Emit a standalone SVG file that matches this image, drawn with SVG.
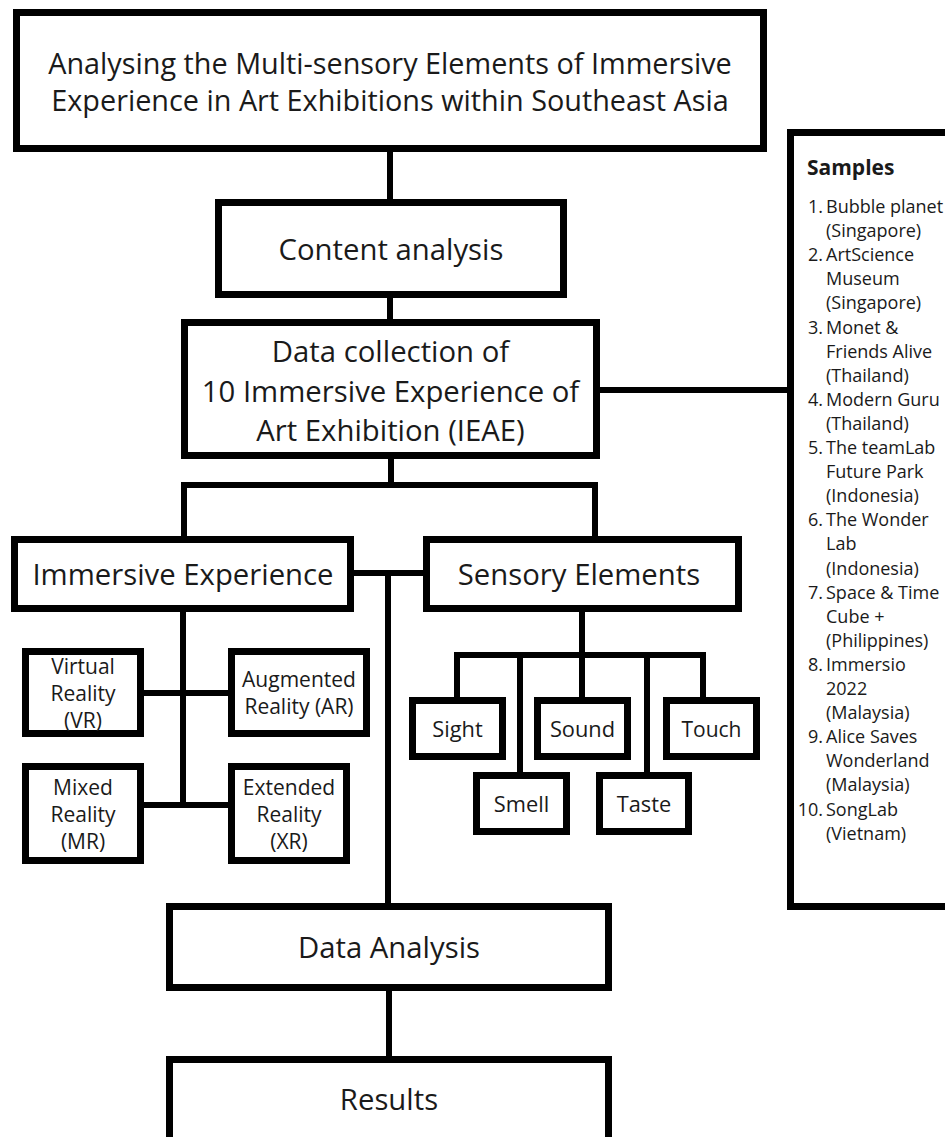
<svg xmlns="http://www.w3.org/2000/svg" width="945" height="1137" viewBox="0 0 945 1137">
<style>
.box{fill:#fff;stroke:#000;stroke-width:7}
.ln{fill:none;stroke:#000;stroke-width:6;stroke-linejoin:miter;stroke-linecap:butt}
text{font-family:"Open Sans","Noto Sans","Liberation Sans",sans-serif;fill:#1a1a1a}
.t29{font-size:28.8px;text-anchor:middle}
.t27{font-size:29.3px;text-anchor:middle}
.t28{font-size:29.3px;text-anchor:middle}
.t21{font-size:21px;text-anchor:middle}
.t22{font-size:21.8px;text-anchor:middle}
.s18{font-size:18px}
.num{font-size:18px;text-anchor:end}
.hd{font-size:21px;font-weight:bold}
</style>
<rect width="945" height="1137" fill="#fff"/>
<g id="connectors">
<path class="ln" d="M390,152 V199"/>
<path class="ln" d="M390,298 V319"/>
<path class="ln" d="M600,390 H787"/>
<path class="ln" d="M391,459 V485"/>
<path class="ln" d="M184,537 V485 H595 V537"/>
<path class="ln" d="M354,573 H423"/>
<path class="ln" d="M388,573 V903"/>
<path class="ln" d="M183,612 V807"/>
<path class="ln" d="M144,693 H228"/>
<path class="ln" d="M144,805 H228"/>
<path class="ln" d="M582,612 V697"/>
<path class="ln" d="M457,697 V655 H703 V697"/>
<path class="ln" d="M520,655 V772"/>
<path class="ln" d="M647,655 V772"/>
<path class="ln" d="M389,991 V1056"/>
</g>
<g id="title">
<rect class="box" x="16.5" y="12.5" width="747" height="136"/>
<text class="t29" x="390" y="74">Analysing the Multi-sensory Elements of Immersive</text>
<text class="t29" x="390" y="111">Experience in Art Exhibitions within Southeast Asia</text>
</g>
<g id="content-analysis">
<rect class="box" x="218.5" y="202.5" width="345" height="92"/>
<text class="t27" x="391" y="260">Content analysis</text>
</g>
<g id="data-collection">
<rect class="box" x="184.5" y="322.5" width="412" height="133"/>
<text class="t27" x="390.5" y="362">Data collection of</text>
<text class="t27" x="390.5" y="402">10 Immersive Experience of</text>
<text class="t27" x="390.5" y="441">Art Exhibition (IEAE)</text>
</g>
<g id="samples">
<rect class="box" x="790.5" y="132.5" width="200" height="774"/>
<text class="hd" x="807" y="175">Samples</text>
<g class="s18">
<text class="num" x="823" y="213">1.</text><text x="826" y="213">Bubble planet</text>
<text x="826" y="237.1">(Singapore)</text>
<text class="num" x="823" y="261.2">2.</text><text x="826" y="261.2">ArtScience</text>
<text x="826" y="285.3">Museum</text>
<text x="826" y="309.4">(Singapore)</text>
<text class="num" x="823" y="333.5">3.</text><text x="826" y="333.5">Monet &amp;</text>
<text x="826" y="357.6">Friends Alive</text>
<text x="826" y="381.7">(Thailand)</text>
<text class="num" x="823" y="405.8">4.</text><text x="826" y="405.8">Modern Guru</text>
<text x="826" y="429.9">(Thailand)</text>
<text class="num" x="823" y="454">5.</text><text x="826" y="454">The teamLab</text>
<text x="826" y="478.1">Future Park</text>
<text x="826" y="502.2">(Indonesia)</text>
<text class="num" x="823" y="526.3">6.</text><text x="826" y="526.3">The Wonder</text>
<text x="826" y="550.4">Lab</text>
<text x="826" y="574.5">(Indonesia)</text>
<text class="num" x="823" y="598.6">7.</text><text x="826" y="598.6">Space &amp; Time</text>
<text x="826" y="622.7">Cube +</text>
<text x="826" y="646.8">(Philippines)</text>
<text class="num" x="823" y="670.9">8.</text><text x="826" y="670.9">Immersio</text>
<text x="826" y="695">2022</text>
<text x="826" y="719.1">(Malaysia)</text>
<text class="num" x="823" y="743.2">9.</text><text x="826" y="743.2">Alice Saves</text>
<text x="826" y="767.3">Wonderland</text>
<text x="826" y="791.4">(Malaysia)</text>
<text class="num" x="823" y="815.5">10.</text><text x="826" y="815.5">SongLab</text>
<text x="826" y="839.6">(Vietnam)</text>
</g>
</g>
<g id="immersive-experience">
<rect class="box" x="14.5" y="539.5" width="336" height="69"/>
<text class="t28" x="183" y="585">Immersive Experience</text>
</g>
<g id="sensory-elements">
<rect class="box" x="426.5" y="539.5" width="312" height="69"/>
<text class="t28" x="579" y="585">Sensory Elements</text>
</g>
<g id="vr">
<rect class="box" x="25.5" y="651.5" width="115" height="82"/>
<text class="t21" x="83" y="674">Virtual</text>
<text class="t21" x="83" y="701">Reality</text>
<text class="t21" x="83" y="728">(VR)</text>
</g>
<g id="ar">
<rect class="box" x="231.5" y="651.5" width="135" height="82"/>
<text class="t21" x="299" y="687">Augmented</text>
<text class="t21" x="299" y="714">Reality (AR)</text>
</g>
<g id="mr">
<rect class="box" x="25.5" y="766.5" width="115" height="94"/>
<text class="t21" x="83" y="795">Mixed</text>
<text class="t21" x="83" y="822">Reality</text>
<text class="t21" x="83" y="849">(MR)</text>
</g>
<g id="xr">
<rect class="box" x="231.5" y="766.5" width="115" height="94"/>
<text class="t21" x="289" y="795">Extended</text>
<text class="t21" x="289" y="822">Reality</text>
<text class="t21" x="289" y="849">(XR)</text>
</g>
<g id="sight">
<rect class="box" x="412.5" y="700.5" width="90" height="56"/>
<text class="t22" x="457.5" y="737">Sight</text>
</g>
<g id="sound">
<rect class="box" x="537.5" y="700.5" width="90" height="56"/>
<text class="t22" x="582.5" y="737">Sound</text>
</g>
<g id="touch">
<rect class="box" x="666.5" y="700.5" width="90" height="56"/>
<text class="t21" x="711.5" y="737">Touch</text>
</g>
<g id="smell">
<rect class="box" x="476.5" y="775.5" width="90" height="56"/>
<text class="t22" x="521.5" y="812">Smell</text>
</g>
<g id="taste">
<rect class="box" x="599.5" y="775.5" width="89" height="56"/>
<text class="t22" x="644" y="812">Taste</text>
</g>
<g id="data-analysis">
<rect class="box" x="169.5" y="906.5" width="439" height="81"/>
<text class="t27" x="389" y="958">Data Analysis</text>
</g>
<g id="results">
<rect class="box" x="169.5" y="1059.5" width="439" height="100"/>
<text class="t27" x="389" y="1110">Results</text>
</g>
</svg>
